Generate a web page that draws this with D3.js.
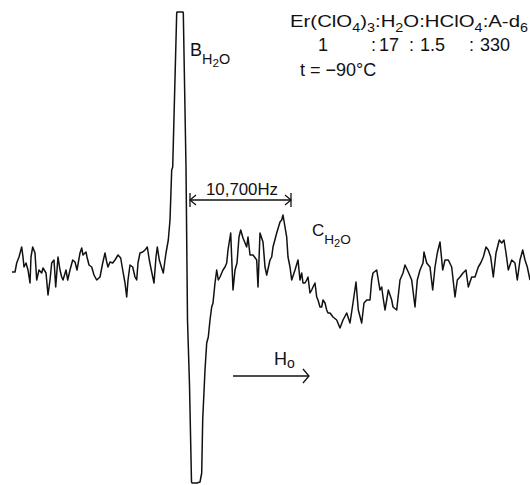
<!DOCTYPE html>
<html>
<head>
<meta charset="utf-8">
<script src="https://cdn.jsdelivr.net/npm/d3@7"></script>
<style>
  body { margin: 0; background: #fff; }
  text { font-family: "Liberation Sans", Arial, sans-serif; fill: #111; }
</style>
</head>
<body>
<script>
// EPR-style trace of Er(ClO4)3 solution.
// field = sweep position (arbitrary units), signal = derivative signal (arbitrary units)
const field = [12, 15, 16.7, 19, 21.7, 23, 24, 26, 28, 30, 31, 32.7, 35, 36.7, 39, 41.7, 43, 46, 48, 50,
  51.7, 54, 55.7, 58, 60, 61.7, 63, 66, 67.7, 70, 72.7, 75, 77, 80, 81.7, 83, 86, 87, 89, 91.7,
  94, 96.7, 100, 102.7, 105, 106.7, 108, 110, 112.7, 115, 118, 120.7, 122.7, 125, 126.7, 128, 130, 132.7, 135, 136.7,
  138, 140, 142.7, 145, 147.3, 149.3, 151.7, 154, 156, 157.3, 159.3, 161.7, 163.3, 165, 166, 168.3, 170, 171.7, 172.7, 176.7,
  177, 183, 183.3, 186, 187.5, 189.5, 191.5, 192, 197, 200, 201.7, 202.7, 205, 206.7, 208.3, 210, 211.7, 213, 215, 216.7,
  218.3, 220, 221.7, 223, 225, 226.7, 228, 230.7, 233, 235, 237, 239, 240.7, 243, 246.7, 248, 250, 253, 256.7, 258,
  260, 263, 265, 266.7, 270, 271.7, 273, 276.7, 280, 281.7, 283, 285, 286.7, 288, 290, 291.7, 295, 298, 300, 301.7,
  303, 305, 306.7, 308, 310, 311.7, 313, 315, 316.7, 318, 320, 321.7, 323, 325, 326.7, 328, 330, 333, 336.7, 340,
  343, 346.7, 350, 353, 356, 358.3, 361.7, 364, 366.7, 370, 371.7, 373, 376.7, 378.3, 380, 381.7, 383, 385, 386.7, 388.3,
  391.7, 393, 396.7, 400, 403, 405, 408.3, 411.7, 415, 417.3, 420, 423, 424, 426.7, 430, 432.7, 435, 437.3, 440, 442.7,
  445, 448.3, 451.7, 455, 457.3, 460, 463, 466, 468.3, 471.7, 475, 478.3, 480.7, 483.3, 486, 488.3, 490.7, 493.3, 496, 499.3,
  501.7, 504, 506, 508.3, 511.7, 515, 517.3, 520, 522.7, 525, 527.3, 530];
const signal = [-7, -7, 2, 8, 18, 8, -2, 2, -5, -18, 8, 18, 12, -15, -5, -8, -3, -8, -30, -15,
  2, 5, -22, 8, -5, -12, -15, -5, -15, -5, 5, 3, -5, 12, 17, 10, 13, 8, 0, -2,
  -10, -15, -12, 2, 12, 3, -2, 3, 2, 5, 10, 7, -5, -18, -32, -15, 0, -2, -12, -15,
  2, 12, 13, 15, 18, 5, -7, -18, 8, 18, 5, -3, -8, 5, 12, 25, 45, 95, 98, 252,
  253, 253, 252, 98, -55, -120, -217, -218, -218, -217, -208, -155, -105, -78, -72, -55, -42, -38, -18, -5,
  -15, -12, -8, -5, -2, 2, 15, 32, -25, -5, 2, 28, 35, 27, 18, 28, 10, 10, 5, -22,
  32, 23, -2, -10, 5, 8, 18, 32, 43, 45, 50, 38, 28, 8, -2, -15, -5, 5, -15, -8,
  -18, -18, -15, -12, -28, -25, -22, -18, -32, -35, -42, -42, -35, -38, -45, -48, -48, -52, -55, -63,
  -55, -48, -58, -38, -17, -45, -58, -38, -35, -35, -15, -8, -5, -15, -25, -22, -32, -45, -35, -25,
  -35, -42, -45, -15, -8, 0, -7, -15, -42, -15, -5, 2, 13, 2, -2, -25, -2, 12, 23, -5,
  5, 5, -2, -32, -15, -12, -8, -5, -22, -12, -12, -2, 2, 8, 18, 15, 8, -12, 12, 25,
  22, 25, 12, -5, 5, 2, -15, 5, 15, 5, -2, -15];

// annotation positions in data units
const peakB = 183;     // where the dimension arrow starts
const peakC = 288;     // where it ends
const hzLabel = "10,700Hz";

// ratio row under the formula
const ratioText = ["1", ":", "17", ":", "1.5", ":", "330"];
const ratioX = [318, 371, 379, 409, 420, 469, 480];

const width = 530, height = 485;

const xScale = d3.scaleLinear().domain([0, 530]).range([0, width]);
const yScale = d3.scaleLinear().domain([-220, 265]).range([height, 0]);

const svg = d3.select("body").append("svg")
  .attr("width", width)
  .attr("height", height);

const data = field.map((f, i) => ({f: f, s: signal[i]}));

const line = d3.line()
  .x(d => xScale(d.f))
  .y(d => yScale(d.s));

svg.append("path")
  .datum(data)
  .attr("d", line)
  .attr("fill", "none")
  .attr("stroke", "#111")
  .attr("stroke-width", 1.5)
  .attr("stroke-linejoin", "round");

// dimension arrow between B and C
const ay = yScale(65);
const ax1 = xScale(peakB + 7), ax2 = xScale(peakC + 3);
const ink = svg.append("g").attr("stroke", "#111").attr("stroke-width", 1.3).attr("fill", "none");
ink.append("line").attr("x1", ax1).attr("x2", ax2).attr("y1", ay).attr("y2", ay);
ink.append("line").attr("x1", ax1).attr("x2", ax1).attr("y1", ay - 7).attr("y2", ay + 7);
ink.append("line").attr("x1", ax2).attr("x2", ax2).attr("y1", ay - 7).attr("y2", ay + 7);
ink.append("path").attr("d", `M${ax1 + 6},${ay - 5} L${ax1},${ay} L${ax1 + 6},${ay + 5}`);
ink.append("path").attr("d", `M${ax2 - 6},${ay - 5} L${ax2},${ay} L${ax2 - 6},${ay + 5}`);

svg.append("text")
  .attr("x", 206).attr("y", 195)
  .style("font-size", "16px")
  .attr("textLength", 72)
  .attr("lengthAdjust", "spacingAndGlyphs")
  .text(hzLabel);

// H0 sweep arrow
const hy = 376;
ink.append("line").attr("x1", 233).attr("x2", 309).attr("y1", hy).attr("y2", hy);
ink.append("path").attr("d", `M303,${hy - 7} L309,${hy} L303,${hy + 7}`);

const h0 = svg.append("text").attr("x", 274).attr("y", 365).style("font-size", "18px");
h0.append("tspan").text("H");
h0.append("tspan").attr("dy", 3).style("font-size", "14px").text("o");

// B and C labels
function subLabel(x, y, big, size) {
  const t = svg.append("text").attr("x", x).attr("y", y).style("font-size", size + "px");
  t.append("tspan").text(big);
  t.append("tspan").attr("dy", 8).style("font-size", (size * 0.8) + "px").text("H");
  t.append("tspan").attr("dy", 3).style("font-size", (size * 0.65) + "px").text("2");
  t.append("tspan").attr("dy", -3).style("font-size", (size * 0.8) + "px").text("O");
  return t;
}
subLabel(190, 56, "B", 18);
subLabel(312, 236, "C", 17);

// composition block
const comp = svg.append("text").attr("x", 290).attr("y", 27).style("font-size", "17px")
  .attr("textLength", 238).attr("lengthAdjust", "spacingAndGlyphs");
const parts = [["Er(ClO", 0], ["4", 5], [")", -5], ["3", 5], [":H", -5], ["2", 5], ["O:HClO", -5], ["4", 5], [":A-d", -5], ["6", 5]];
parts.forEach(p => {
  const sp = comp.append("tspan").attr("dy", p[1]).text(p[0]);
  if (p[1] > 0) sp.style("font-size", "12px");
});

svg.selectAll("text.ratio")
  .data(ratioText)
  .enter().append("text")
  .attr("class", "ratio")
  .attr("x", (d, i) => ratioX[i])
  .attr("y", 51)
  .style("font-size", "18px")
  .text(d => d);

svg.append("text")
  .attr("x", 300).attr("y", 76)
  .style("font-size", "18px")
  .attr("xml:space", "preserve")
  .text("t = −90°C");
</script>
</body>
</html>
